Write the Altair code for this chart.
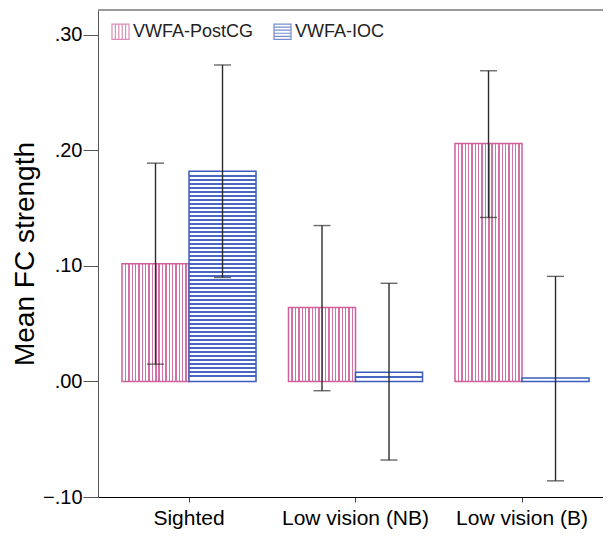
import altair as alt
import pandas as pd

# ---- data ----
groups = ["Sighted", "Low vision (NB)", "Low vision (B)"]
series = ["VWFA-PostCG", "VWFA-IOC"]
postcg_mean = [0.102, 0.064, 0.206]
postcg_lo = [0.015, -0.008, 0.142]
postcg_hi = [0.189, 0.135, 0.269]
ioc_mean = [0.182, 0.008, 0.003]
ioc_lo = [0.090, -0.068, -0.086]
ioc_hi = [0.274, 0.085, 0.091]
y_ticks = [-0.10, 0.0, 0.10, 0.20, 0.30]

rows = []
for i, g in enumerate(groups):
    rows.append(dict(group=g, series=series[0], value=postcg_mean[i], lo=postcg_lo[i], hi=postcg_hi[i], zero=0.0))
    rows.append(dict(group=g, series=series[1], value=ioc_mean[i], lo=ioc_lo[i], hi=ioc_hi[i], zero=0.0))
df = pd.DataFrame(rows)

# ---- layout / style ----
W, H = 505, 487
YMIN, YMAX = -0.10, 0.3216
FONT = "Liberation Sans"
PINK = "#cf5f98"
PINK_STRIPE = "#d472a5"
BLUE = "#3c5cbc"
BLUE_STRIPE = "#4867c2"
ERR = "#2b2b2b"

P_INNER, P_OUTER, ALIGN = 0.195, 0.114, 0.632
step = W / (len(groups) - P_INNER + 2 * P_OUTER)
bar_w = step * (1 - P_INNER) / 2


def stripes(n_px, period, start, line, color, horizontal):
    stops = [alt.GradientStop(offset=0, color="white")]
    pos = start
    while pos + line < n_px - 1.5:
        a, b = pos / n_px, (pos + line) / n_px
        stops += [
            alt.GradientStop(offset=a, color="white"),
            alt.GradientStop(offset=a, color=color),
            alt.GradientStop(offset=b, color=color),
            alt.GradientStop(offset=b, color="white"),
        ]
        pos += period
    stops.append(alt.GradientStop(offset=1, color="white"))
    if horizontal:
        return alt.LinearGradient(gradient="linear", stops=stops, x1=0, y1=0, x2=0, y2=1)
    return alt.LinearGradient(gradient="linear", stops=stops, x1=0, y1=0, x2=1, y2=0)


x_enc = alt.X(
    "group:N",
    sort=groups,
    scale=alt.Scale(domain=groups, paddingInner=P_INNER, paddingOuter=P_OUTER, align=ALIGN),
    axis=alt.Axis(title=None, labelAngle=0, labelFontSize=21, tickSize=5, domainColor="black",
                  tickColor="#444", labelPadding=5, labelColor="black", labelFont=FONT),
)
xo_enc = alt.XOffset("series:N", sort=series,
                     scale=alt.Scale(domain=series, paddingInner=0, paddingOuter=0))
y_scale = alt.Scale(domain=[YMIN, YMAX], nice=False, zero=False)
y_axis = alt.Axis(values=y_ticks, labelExpr="replace(format(datum.value, '.2f'), '0.', '.')",
                  tickSize=15, labelPadding=1, domainColor="#555", tickColor="#555",
                  labelFontSize=20, labelColor="black", titleFontSize=28, titleFontWeight="normal",
                  titleColor="black", titlePadding=3, grid=False, labelFont=FONT, titleFont=FONT)
TITLE = "Mean FC strength"


def yq(field):
    return alt.Y(field, type="quantitative", scale=y_scale, axis=y_axis, title=TITLE)


base = alt.Chart(df)

layers = []
# pink bars (vertical stripes)
pink_fill = stripes(bar_w, 3.35, 3.0, 1.4, PINK_STRIPE, horizontal=False)
layers.append(
    base.transform_filter(alt.datum.series == series[0])
    .mark_bar(fill=pink_fill, stroke=PINK, strokeWidth=1.5)
    .encode(x=x_enc, xOffset=xo_enc, y=yq("value"), y2="zero:Q")
)
# blue bars (horizontal stripes, per bar so spacing stays constant)
for i, g in enumerate(groups):
    h_px = abs(ioc_mean[i]) / (YMAX - YMIN) * H
    fill = stripes(h_px, 4.0, 4.0, 1.5, BLUE_STRIPE, horizontal=True)
    layers.append(
        base.transform_filter((alt.datum.series == series[1]) & (alt.datum.group == g))
        .mark_bar(fill=fill, stroke=BLUE, strokeWidth=1.5)
        .encode(x=x_enc, xOffset=xo_enc, y=yq("value"), y2="zero:Q")
    )

# error bars
layers.append(base.mark_rule(color=ERR, strokeWidth=1.4)
              .encode(x=x_enc, xOffset=xo_enc, y=yq("lo"), y2="hi:Q"))
layers.append(base.mark_tick(color=ERR, size=17, thickness=1.4)
              .encode(x=x_enc, xOffset=xo_enc, y=yq("lo")))
layers.append(base.mark_tick(color=ERR, size=17, thickness=1.4)
              .encode(x=x_enc, xOffset=xo_enc, y=yq("hi")))

# legend (empty layer carrying colour + striped shape)
vpath = "M-1,-0.9H1V0.9H-1Z M-0.6,-0.9V0.9 M-0.2,-0.9V0.9 M0.2,-0.9V0.9 M0.6,-0.9V0.9"
hpath = "M-1,-0.9H1V0.9H-1Z M-1,-0.54H1 M-1,-0.18H1 M-1,0.18H1 M-1,0.54H1"
leg = alt.Legend(title=None, orient="none", legendX=13, legendY=12, direction="horizontal",
                 labelFontSize=18, labelFont=FONT, labelColor="#222", symbolSize=289,
                 symbolStrokeWidth=1.2, labelOffset=3, columnPadding=17, padding=0)
layers.append(
    base.transform_filter("false")
    .mark_point(filled=False, strokeWidth=1.2)
    .encode(
        x=x_enc, y=yq("value"),
        color=alt.Color("series:N", sort=series, scale=alt.Scale(domain=series, range=[PINK, BLUE]), legend=leg),
        shape=alt.Shape("series:N", sort=series, scale=alt.Scale(domain=series, range=[vpath, hpath]), legend=leg),
    )
)

# top frame line
layers.append(
    alt.Chart(pd.DataFrame({"k": [0]})).mark_rule(color="#9a9a9a", strokeWidth=2)
    .encode(x=alt.value(0), x2=alt.value(W), y=alt.value(0))
)

chart = (
    alt.layer(*layers)
    .properties(width=W, height=H, autosize=alt.AutoSizeParams(type="none"),
                padding={"left": 90, "top": 2, "right": 0, "bottom": 33})
    .configure_view(stroke=None)
)

chart.save("out.html", embed_options={"renderer": "svg", "actions": False})
